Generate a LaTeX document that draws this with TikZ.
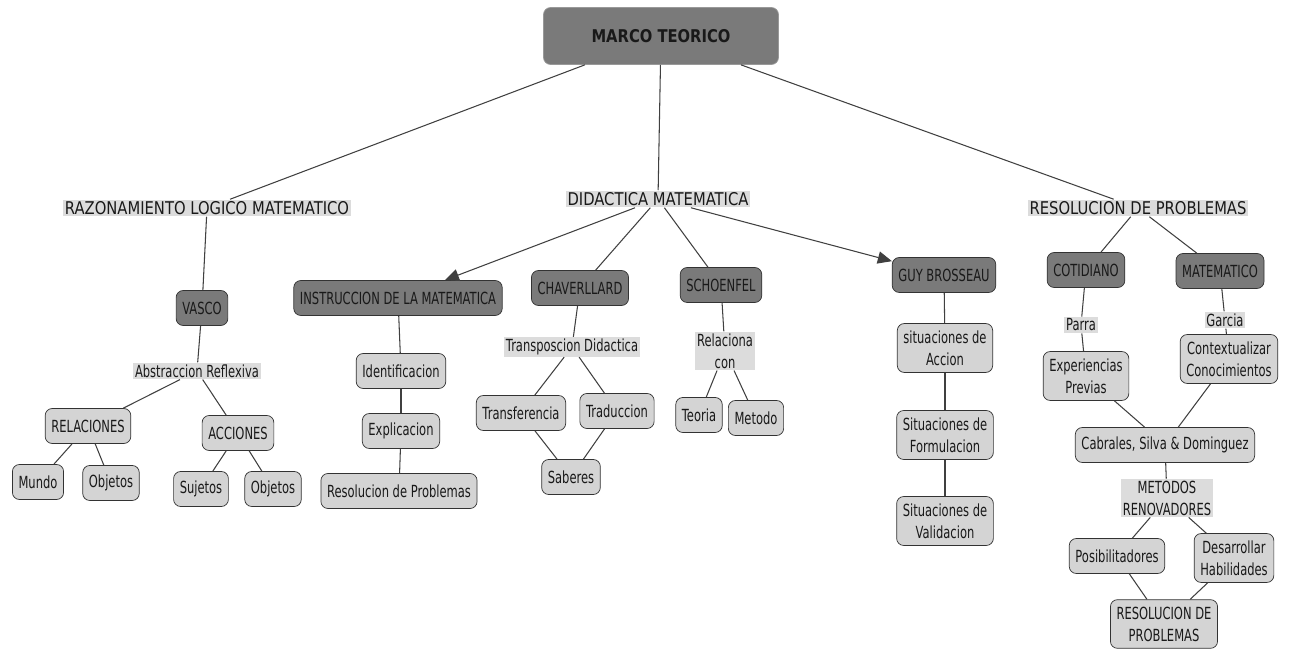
\documentclass[tikz,border=0pt]{standalone}
\usepackage{fontspec}
\setmainfont{DejaVu Sans}[FakeStretch=0.69]
\newfontfamily\bigfont{DejaVu Sans}[FakeStretch=0.84]
\usetikzlibrary{arrows.meta}
\definecolor{darkbox}{HTML}{7A7A7A}
\definecolor{lightbox}{HTML}{D4D4D4}
\definecolor{lblgray}{HTML}{DCDCDC}
\begin{document}
\begin{tikzpicture}[x=0.02cm,y=-0.02cm,
    every node/.style={font=\fontsize{9.5}{12.5}\selectfont,text=black!90},
    dark/.style={draw=black!80,fill=darkbox,rounded corners=4pt,
      inner xsep=3.5pt,inner ysep=4pt,minimum height=0.7cm,align=center},
    light/.style={draw=black!80,fill=lightbox,rounded corners=4pt,
      inner xsep=3.5pt,inner ysep=4pt,minimum height=0.7cm,align=center},
    lbl/.style={fill=lblgray,inner sep=1pt,align=center},
    toplbl/.style={lbl,font=\bigfont\fontsize{10}{12}\selectfont},
    ln/.style={draw=black!75,line width=0.6pt},
    arr/.style={ln,-{Triangle[length=8pt,width=7pt]}}]
  \useasboundingbox (0,0) rectangle (1289,651);
  % top
  \node[dark,draw=black!40,minimum width=4.7cm,minimum height=1.14cm,
    font=\bigfont\fontsize{10}{12}\selectfont\bfseries] (marco) at (661,36) {MARCO TEORICO};
  \node[toplbl] (razon) at (207,208) {RAZONAMIENTO LOGICO MATEMATICO};
  \node[toplbl] (didac) at (658,199) {DIDACTICA MATEMATICA};
  \node[toplbl] (resol) at (1138,208) {RESOLUCION DE PROBLEMAS};
  \draw[ln] (marco) -- (razon);
  \draw[ln] (marco) -- (didac);
  \draw[ln] (marco) -- (resol);
  % razonamiento
  \node[dark] (vasco) at (202,308) {VASCO};
  \node[lbl] (abstr) at (197,371) {Abstraccion Reflexiva};
  \node[light] (relac) at (88,426) {RELACIONES};
  \node[light] (accio) at (238,433) {ACCIONES};
  \node[light] (mundo) at (38,482) {Mundo};
  \node[light] (objA) at (111,483) {Objetos};
  \node[light] (sujet) at (201,489) {Sujetos};
  \node[light] (objB) at (273,489) {Objetos};
  \draw[ln] (razon) -- (vasco);
  \draw[ln] (vasco) -- (abstr);
  \draw[ln] (abstr) -- (relac);
  \draw[ln] (abstr) -- (accio);
  \draw[ln] (relac) -- (mundo);
  \draw[ln] (relac) -- (objA);
  \draw[ln] (accio) -- (sujet);
  \draw[ln] (accio) -- (objB);
  % didactica
  \node[dark] (instr) at (398,298) {INSTRUCCION DE LA MATEMATICA};
  \node[light] (ident) at (401,371) {Identificacion};
  \node[light] (expli) at (401,431) {Explicacion};
  \node[light] (rprob) at (399,491) {Resolucion de Problemas};
  \node[dark] (chave) at (580,288) {CHAVERLLARD};
  \node[lbl] (transp) at (572,347) {Transposcion Didactica};
  \node[light] (transf) at (521,413) {Transferencia};
  \node[light] (tradu) at (617,411) {Traduccion};
  \node[light] (saber) at (571,477) {Saberes};
  \node[dark] (schoe) at (721,285) {SCHOENFEL};
  \node[lbl] (relcon) at (725,351) {Relaciona\\con};
  \node[light] (teori) at (699,415) {Teoria};
  \node[light] (metod) at (756,418) {Metodo};
  \node[dark] (guy) at (944,275) {GUY BROSSEAU};
  \node[light] (sitA) at (945,348) {situaciones de\\Accion};
  \node[light] (sitF) at (945,435) {Situaciones de\\Formulacion};
  \node[light] (sitV) at (945,521) {Situaciones de\\Validacion};
  \draw[arr] (didac) -- (instr);
  \draw[ln] (didac) -- (chave);
  \draw[ln] (didac) -- (schoe);
  \draw[arr] (didac) -- (guy);
  \draw[ln] (instr) -- (ident);
  \draw[ln] (ident) -- (expli);
  \draw[ln] (expli) -- (rprob);
  \draw[ln] (chave) -- (transp);
  \draw[ln] (transp) -- (transf);
  \draw[ln] (transp) -- (tradu);
  \draw[ln] (transf) -- (saber);
  \draw[ln] (tradu) -- (saber);
  \draw[ln] (schoe) -- (relcon);
  \draw[ln] (relcon) -- (teori);
  \draw[ln] (relcon) -- (metod);
  \draw[ln] (guy) -- (sitA);
  \draw[ln] (sitA) -- (sitF);
  \draw[ln] (sitF) -- (sitV);
  % resolucion
  \node[dark] (cotid) at (1086,270) {COTIDIANO};
  \node[dark] (matem) at (1220,271) {MATEMATICO};
  \node[lbl] (parra) at (1081,325) {Parra};
  \node[lbl] (garcia) at (1225,320) {Garcia};
  \node[light] (exper) at (1086,376) {Experiencias\\Previas};
  \node[light] (conte) at (1229,359) {Contextualizar\\Conocimientos};
  \node[light] (cabra) at (1165,445) {Cabrales, Silva \& Dominguez};
  \node[lbl] (renov) at (1167,498) {METODOS\\RENOVADORES};
  \node[light] (posib) at (1117,556) {Posibilitadores};
  \node[light] (desar) at (1234,558) {Desarrollar\\Habilidades};
  \node[light] (rfin) at (1164,624) {RESOLUCION DE\\PROBLEMAS};
  \draw[ln] (resol) -- (cotid);
  \draw[ln] (resol) -- (matem);
  \draw[ln] (cotid) -- (parra);
  \draw[ln] (parra) -- (exper);
  \draw[ln] (matem) -- (garcia);
  \draw[ln] (garcia) -- (conte);
  \draw[ln] (exper) -- (cabra);
  \draw[ln] (conte) -- (cabra);
  \draw[ln] (cabra) -- (renov);
  \draw[ln] (renov) -- (posib);
  \draw[ln] (renov) -- (desar);
  \draw[ln] (posib) -- (rfin);
  \draw[ln] (desar) -- (rfin);
\end{tikzpicture}
\end{document}
